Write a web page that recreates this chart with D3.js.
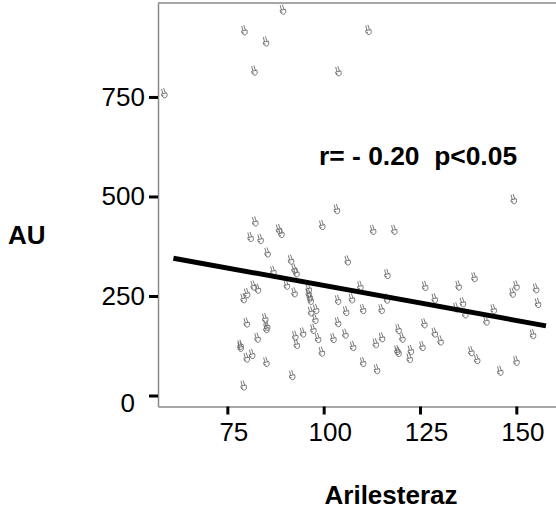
<!DOCTYPE html>
<html>
<head>
<meta charset="utf-8">
<script src="https://cdn.jsdelivr.net/npm/d3@7"></script>
<style>
  body { margin: 0; background: #fff; }
  text { font-family: "Liberation Sans", Arial, sans-serif; }
</style>
</head>
<body>
<div id="scatter"></div>
<script>
// data
let arilesteraz = [89.4, 79.4, 85.0, 111.6, 82.0, 103.8, 58.6, 149.3, 103.4, 82.2,
  99.6, 88.4, 89.0, 81.0, 83.6, 112.8, 118.3, 85.4, 91.5, 106.2,
  86.9, 92.4, 92.9, 116.5, 139.1, 81.8, 82.9, 80.1, 79.2, 90.4,
  92.4, 96.1, 96.1, 96.4, 96.6, 103.7, 107.3, 109.5, 116.4, 126.3,
  135.0, 128.8, 136.1, 149.0, 150.0, 155.1, 155.6, 96.7, 98.0, 97.8,
  105.8, 110.2, 115.0, 134.4, 136.7, 144.1, 142.2, 80.0, 84.8, 85.3,
  85.1, 103.7, 126.1, 82.8, 92.6, 94.6, 97.3, 98.5, 102.5, 105.6,
  119.4, 120.4, 115.1, 128.8, 154.3, 78.4, 78.4, 93.0, 107.6, 113.5,
  130.3, 125.6, 80.0, 81.4, 99.5, 119.1, 119.4, 122.6, 122.3, 138.3,
  85.1, 110.2, 113.8, 139.8, 150.0, 145.8, 91.8, 79.2]
let au = [969, 917, 889, 918, 816, 814, 759, 493, 468, 437,
  428, 418, 408, 398, 393, 416, 416, 359, 341, 339,
  313, 318, 309, 305, 297, 276, 268, 257, 244, 278,
  259, 269, 257, 248, 240, 240, 244, 275, 243, 275,
  276, 244, 234, 258, 276, 269, 232, 211, 217, 192,
  212, 217, 217, 221, 206, 217, 188, 183, 194, 175,
  169, 184, 181, 145, 150, 158, 167, 144, 144, 155,
  167, 145, 146, 158, 154, 127, 122, 129, 124, 131,
  138, 124, 95, 104, 110, 114, 109, 114, 94, 111,
  84, 84, 66, 91, 87, 62, 51, 25]
// fit line end points
let fitX = [61, 157.7]
let fitY = [345, 175]
let xTicks = [75, 100, 125, 150]
let yTicks = [0, 250, 500, 750]

let width = 556
let height = 515
let font = 26

let xScale = d3.scaleLinear([57, 161], [158, 558.7])
let yScale = d3.scaleLinear([-27.6, 986], [406.5, 3])

let svg = d3.select('#scatter')
  .append('svg')
  .attr('width', width)
  .attr('height', height)
let g = svg.append('g')

// frame top line
g.append('line')
  .attr('x1', xScale.range()[0]).attr('x2', xScale.range()[1])
  .attr('y1', yScale.range()[1]).attr('y2', yScale.range()[1])
  .attr('stroke', '#8a8a8a').attr('stroke-width', 1.5)

// axes
let xAxis = g.append('g')
  .attr('transform', `translate(0,${yScale.range()[0]})`)
  .call(d3.axisBottom(xScale).tickValues(xTicks).tickSize(8).tickSizeOuter(0).tickPadding(8.5))
let yAxis = g.append('g')
  .attr('transform', `translate(${xScale.range()[0]},0)`)
  .call(d3.axisLeft(yScale).tickValues(yTicks).tickSize(9).tickSizeOuter(0).tickPadding(4))

;[xAxis, yAxis].forEach(a => {
  a.select('.domain').attr('stroke', '#8a8a8a').attr('stroke-width', 1.5)
  a.selectAll('.tick line').attr('stroke', '#000').attr('stroke-width', 3)
  a.selectAll('.tick text').attr('font-size', font).attr('fill', '#000')
    .style('font-family', '"Liberation Sans", Arial, sans-serif')
})
xAxis.selectAll('.tick text').attr('dx', 6)
// the zero label sits a bit lower and left
yAxis.selectAll('.tick text').filter(d => d === 0).attr('dx', -10).attr('dy', '0.6em')

// small "victory hand" marker, drawn as a path
let hand = 'M-1.6,-5 L-1.4,0 M0.6,-5.2 L1.2,0' +
  'M-2.8,0 L2.6,0 Q3,4.2 0,4.6 Q-3,4.2 -2.8,0' +
  'M-2.8,1.6 L-1,2.4'

g.selectAll('path.pt').data(arilesteraz).enter().append('path')
  .attr('class', 'pt')
  .attr('d', hand)
  .attr('transform', (d, i) => `translate(${xScale(d)},${yScale(au[i])}) rotate(-12)`)
  .attr('fill', 'none')
  .attr('stroke', '#666')
  .attr('stroke-width', 0.8)

// regression line
g.append('line')
  .attr('x1', xScale(fitX[0])).attr('y1', yScale(fitY[0]))
  .attr('x2', xScale(fitX[1])).attr('y2', yScale(fitY[1]))
  .attr('stroke', '#000').attr('stroke-width', 5)

// labels
g.append('text').attr('x', 8).attr('y', 244)
  .attr('font-size', font).attr('font-weight', 'bold').text('AU')
g.append('text').attr('x', 391).attr('y', 504).attr('text-anchor', 'middle')
  .attr('font-size', font).attr('font-weight', 'bold').text('Arilesteraz')
g.append('text').attr('x', 319).attr('y', 165)
  .attr('font-size', 26.4).attr('font-weight', 'bold')
  .style('white-space', 'pre')
  .text('r= - 0.20  p<0.05')
</script>
</body>
</html>
